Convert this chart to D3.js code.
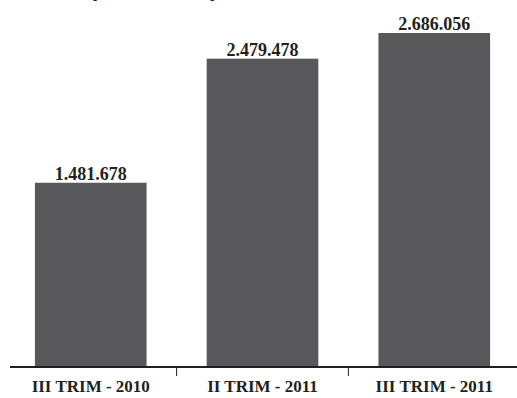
<!DOCTYPE html>
<html>
<head>
<meta charset="utf-8">
<script src="https://cdn.jsdelivr.net/npm/d3@7"></script>
<style>
  html, body { margin: 0; padding: 0; background: #fff; }
  svg { display: block; }
</style>
</head>
<body>
<svg id="chart" width="517" height="398"></svg>
<script>
const categories = ["III TRIM - 2010", "II TRIM - 2011", "III TRIM - 2011"];
const values = [1481678, 2479478, 2686056];
const valueLabels = ["1.481.678", "2.479.478", "2.686.056"];
const titleText = "(EN MILES)";

const svg = d3.select("#chart");
const baseY = 367;

const x = d3.scaleBand().domain(categories).range([4, 521]).paddingInner(0.35).paddingOuter(0.18);
const y = d3.scaleLinear().domain([0, d3.max(values)]).range([baseY, 33]);

// cropped title (only the bottoms of the parentheses remain visible)
svg.append("text")
  .attr("x", 89).attr("y", -4)
  .attr("font-family", "Liberation Sans, Arial, sans-serif")
  .attr("font-weight", "bold").attr("font-size", 24)
  .attr("fill", "#231f20")
  .text(titleText);

// bars
svg.selectAll("rect.bar").data(values).enter().append("rect")
  .attr("class", "bar")
  .attr("x", (d, i) => x(categories[i]))
  .attr("width", x.bandwidth())
  .attr("y", d => y(d))
  .attr("height", d => baseY - y(d))
  .attr("fill", "#58585a");

// value labels
svg.selectAll("text.val").data(values).enter().append("text")
  .attr("class", "val")
  .attr("x", (d, i) => x(categories[i]) + x.bandwidth() / 2)
  .attr("y", d => y(d) - 3)
  .attr("text-anchor", "middle")
  .attr("font-family", "Liberation Serif, Times New Roman, serif")
  .attr("font-weight", "bold").attr("font-size", 18)
  .attr("fill", "#231f20")
  .text((d, i) => valueLabels[i]);

// axis
const axis = d3.axisBottom(x).tickSize(0).tickPadding(0);
const g = svg.append("g").attr("transform", `translate(0,${baseY})`).call(axis);
g.select(".domain").attr("d", `M10,0H517`).attr("stroke", "#231f20").attr("stroke-width", 2.2);
g.selectAll(".tick text")
  .attr("y", 25).attr("dy", 0)
  .attr("font-family", "Liberation Serif, Times New Roman, serif")
  .attr("font-weight", "bold").attr("font-size", 17)
  .attr("fill", "#231f20");

// separator ticks between categories
const seps = categories.slice(1).map(c => x(c) - x.step() * x.paddingInner() / 2);
g.selectAll("line.sep").data(seps).enter().append("line")
  .attr("class", "sep")
  .attr("x1", d => d).attr("x2", d => d)
  .attr("y1", 0).attr("y2", 9)
  .attr("stroke", "#231f20").attr("stroke-width", 1);
</script>
</body>
</html>
